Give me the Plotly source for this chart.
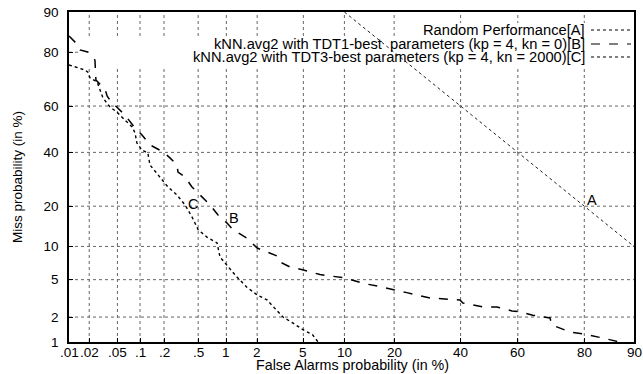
import plotly.graph_objects as go
from statistics import NormalDist

nd = NormalDist()
def probit(p):
    return nd.inv_cdf(p / 100.0)

# ---------------- data (percent) ----------------
rand_fa = [10, 20, 40, 60, 80, 90]
rand_miss = [90, 80, 60, 40, 20, 10]

b_fa = [0.01, 0.0115, 0.0137, 0.0146, 0.019, 0.0227, 0.0242, 0.025, 0.0286, 0.034,
        0.036, 0.042, 0.049, 0.063, 0.086, 0.106, 0.134, 0.195, 0.236, 0.286,
        0.294, 0.355, 0.426, 0.50, 0.595, 0.674, 0.82, 1.01, 1.17, 1.60,
        2.0, 2.46, 3.2, 3.33, 3.9, 5.0, 6.7, 10.1, 13.2, 16.3,
        19.7, 23.3, 30, 39.8, 40.8, 47.8, 52.7, 58, 60.7, 65,
        70.5, 71, 76.3, 79.7, 84.3, 87.6]
b_miss = [84.6, 83.5, 82.1, 80.7, 80.1, 78.5, 77.5, 70.5, 69, 66.6,
          64.2, 61.3, 59.6, 56.2, 50.6, 47.5, 43.2, 40.2, 37.7, 34.8,
          32.0, 30.1, 26.4, 24.3, 22.0, 20.4, 17.4, 15.3, 13.6, 11.7,
          9.7, 9.0, 8.1, 7.2, 6.6, 6.2, 5.6, 5.2, 4.6, 4.3,
          3.95, 3.7, 3.25, 3.1, 2.87, 2.6, 2.6, 2.35, 2.29, 2.1,
          1.95, 1.62, 1.33, 1.26, 1.12, 1.0]

c_fa = [0.01, 0.0132, 0.0174, 0.019, 0.0205, 0.026, 0.0286, 0.0315, 0.0395, 0.049,
        0.063, 0.079, 0.086, 0.091, 0.106, 0.126, 0.134, 0.178, 0.223, 0.286,
        0.355, 0.426, 0.50, 0.625, 0.80, 0.86, 1.01, 1.28, 1.60, 2.0,
        2.46, 3.4, 4.1, 5.0, 5.9, 6.5]
c_miss = [75.9, 74.9, 74.1, 73.4, 71.3, 69.7, 66.6, 63.4, 59.6, 57.5,
          54.0, 51.0, 48.4, 44.0, 41.0, 39.7, 34.8, 30.1, 26.4, 23.6,
          20.4, 16.9, 13.6, 11.9, 10.7, 8.1, 6.9, 5.3, 4.2, 3.5,
          3.1, 2.0, 1.71, 1.41, 1.23, 1.0]

x_ticks = [0.01, 0.02, 0.05, 0.1, 0.2, 0.5, 1, 2, 5, 10, 20, 40, 60, 80, 90]
x_labels = [".01", ".02", ".05", ".1", ".2", ".5", "1", "2", "5", "10", "20", "40", "60", "80", "90"]
y_ticks = [1, 2, 5, 10, 20, 40, 60, 80, 90]
y_labels = ["1", "2", "5", "10", "20", "40", "60", "80", "90"]

legend_names = ["Random Performance[A]",
                "kNN.avg2 with TDT1-best  parameters (kp = 4, kn = 0)[B]",
                "kNN.avg2 with TDT3-best parameters (kp = 4, kn = 2000)[C]"]
# ------------------------------------------------

FONT = "Liberation Sans, Arial, Helvetica, sans-serif"
W, H = 643, 374
L, R, T, B = 69, 9, 12, 32
PW, PH = W - L - R, H - T - B

def px_x(px):   # page pixel -> paper
    return (px - L) / PW
def px_y(py):
    return (H - B - py) / PH

fig = go.Figure()

# grid lines (drawn as shapes so the key box can cover them)
for v in x_ticks[1:-1]:
    fig.add_shape(type="line", xref="x", yref="paper", x0=probit(v), x1=probit(v), y0=0, y1=1,
                  line=dict(color="#666", width=1, dash="dot"), layer="below")
for v in y_ticks[1:-1]:
    fig.add_shape(type="line", xref="paper", yref="y", x0=0, x1=1, y0=probit(v), y1=probit(v),
                  line=dict(color="#666", width=1, dash="dot"), layer="below")

# white key box
fig.add_shape(type="rect", xref="paper", yref="paper", x0=px_x(80), x1=1.0, y0=px_y(66), y1=px_y(36),
              fillcolor="white", line=dict(width=0), layer="below")
fig.add_shape(type="rect", xref="paper", yref="paper", x0=px_x(415), x1=1.0, y0=px_y(40), y1=px_y(23),
              fillcolor="white", line=dict(width=0), layer="below")

fig.add_trace(go.Scatter(x=[probit(v) for v in rand_fa], y=[probit(v) for v in rand_miss],
                         mode="lines", line=dict(color="#222", width=1, dash="dot"),
                         showlegend=False))
fig.add_trace(go.Scatter(x=[probit(v) for v in b_fa], y=[probit(v) for v in b_miss],
                         mode="lines", line=dict(color="black", width=1.5, dash="dash"),
                         showlegend=False))
fig.add_trace(go.Scatter(x=[probit(v) for v in c_fa], y=[probit(v) for v in c_miss],
                         mode="lines", line=dict(color="black", width=1.4, dash="dot"),
                         showlegend=False))

# curve labels
for txt, fx, my in [("A", 81.8, 22.0), ("B", 1.19, 16.6), ("C", 0.44, 20.7)]:
    fig.add_annotation(x=probit(fx), y=probit(my), text=txt, showarrow=False,
                       font=dict(size=14.5, color="black", family=FONT))

# key texts (right aligned) and samples
leg_y = [30, 44, 57]
leg_dash = ["dot", "dash", "dot"]
for name, yy, dsh in zip(legend_names, leg_y, leg_dash):
    fig.add_annotation(xref="paper", yref="paper", x=px_x(587), y=px_y(yy), text=name,
                       showarrow=False, xanchor="right", yanchor="middle",
                       font=dict(size=14.7, color="black", family=FONT))
    fig.add_shape(type="line", xref="paper", yref="paper", x0=px_x(591), x1=px_x(631),
                  y0=px_y(yy), y1=px_y(yy),
                  line=dict(color="black", width=1.2, dash=dsh))

# x tick labels (placed on the x scale, tight under the axis like the original)
for v, lab in zip(x_ticks, x_labels):
    fig.add_annotation(xref="x", yref="paper", x=probit(v), y=px_y(343.5), text=lab,
                       showarrow=False, xanchor="center", yanchor="top", borderpad=0,
                       font=dict(size=13.5, color="black", family=FONT))

# axis titles
fig.add_annotation(xref="paper", yref="paper", x=px_x(352), y=px_y(374), yanchor="bottom",
                   text="False Alarms probability (in %)", showarrow=False,
                   xanchor="center", borderpad=0,
                   font=dict(size=14.3, color="black", family=FONT))
fig.add_annotation(xref="paper", yref="paper", x=px_x(17), y=px_y(177),
                   text="Miss probability (in %)", showarrow=False, textangle=-90,
                   xanchor="center", yanchor="middle",
                   font=dict(size=13.5, color="black", family=FONT))

axis_common = dict(showline=True, linecolor="black", linewidth=1.6, mirror=True,
                   ticks="inside", ticklen=4, tickcolor="black",
                   showgrid=False, zeroline=False, automargin=False,
                   tickfont=dict(size=13.5, color="black", family=FONT))

fig.update_xaxes(range=[probit(0.01), probit(90)], tickmode="array",
                 tickvals=[probit(v) for v in x_ticks], showticklabels=False, **axis_common)
fig.update_yaxes(range=[probit(1), probit(90)], tickmode="array",
                 tickvals=[probit(v) for v in y_ticks], ticktext=y_labels,
                 ticklabelstandoff=6, **axis_common)

fig.update_layout(width=W, height=H, margin=dict(l=L, r=R, t=T, b=B, autoexpand=False),
                  plot_bgcolor="white", paper_bgcolor="white",
                  font=dict(family=FONT, color="black"), showlegend=False)

fig.write_html("out.html", config={"displayModeBar": False},
               post_script="document.body.style.margin='0px';document.body.style.overflow='hidden';")
